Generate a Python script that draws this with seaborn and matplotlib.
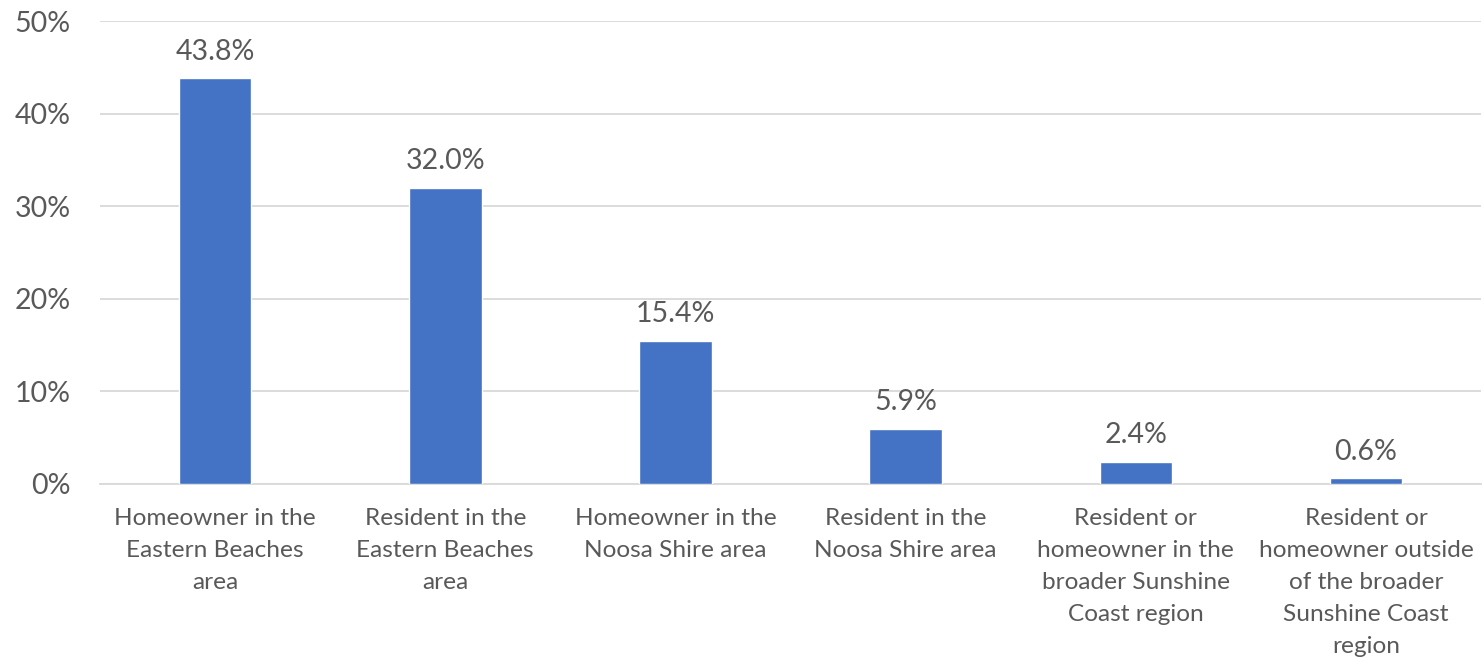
import matplotlib
matplotlib.use("Agg")
import matplotlib.pyplot as plt
import seaborn as sns
import pandas as pd

categories = [
    "Homeowner in the\nEastern Beaches\narea",
    "Resident in the\nEastern Beaches\narea",
    "Homeowner in the\nNoosa Shire area",
    "Resident in the\nNoosa Shire area",
    "Resident or\nhomeowner in the\nbroader Sunshine\nCoast region",
    "Resident or\nhomeowner outside\nof the broader\nSunshine Coast\nregion",
]
values = [43.8, 32.0, 15.4, 5.9, 2.4, 0.6]
y_ticks = [0, 10, 20, 30, 40, 50]

BAR = "#4472C4"
TEXT = "#595959"
GRID = "#D9D9D9"

sns.set_theme(style="white")
plt.rcParams["font.family"] = ["Lato", "DejaVu Sans"]

df = pd.DataFrame({"category": categories, "value": values})

fig = plt.figure(figsize=(14.84, 6.67), dpi=100)
ax = fig.add_axes([0.0674, 0.2744, 0.9306, 0.6941])

sns.barplot(data=df, x="category", y="value", color=BAR, width=0.315,
            saturation=1, ax=ax, zorder=3)

ax.set_ylim(0, 50)
ax.set_yticks(y_ticks)
ax.set_yticklabels([f"{t}%" for t in y_ticks])
ax.set_xlim(-0.5, len(categories) - 0.5)
ax.yaxis.grid(True, color=GRID, linewidth=1.3, zorder=0)
ax.set_axisbelow(True)
for side in ["top", "right", "left"]:
    ax.spines[side].set_visible(False)
ax.spines["bottom"].set_color(GRID)
ax.spines["bottom"].set_linewidth(1.3)
ax.set_xlabel("")
ax.set_ylabel("")
ax.tick_params(axis="both", length=0, colors=TEXT)
ax.tick_params(axis="y", pad=21, labelsize=20.5)
ax.tick_params(axis="x", pad=17.5, labelsize=17.6)
for lbl in ax.get_xticklabels():
    lbl.set_linespacing(1.65)
    lbl.set_verticalalignment("top")

for container in ax.containers:
    ax.bar_label(container, labels=[f"{v:.1f}%" for v in values],
                 padding=10, color=TEXT, fontsize=20.5)

fig.savefig("out.png", dpi=100)
